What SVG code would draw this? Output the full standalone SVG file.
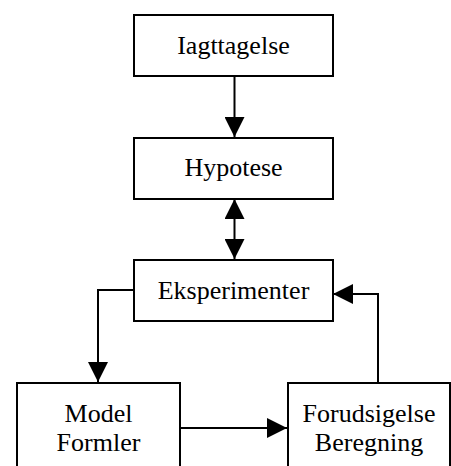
<svg xmlns="http://www.w3.org/2000/svg" width="451" height="466" viewBox="0 0 451 466">
<style>
.box{fill:#fff;stroke:#000;stroke-width:2}
.t{font-family:"Liberation Serif","Times New Roman",serif;font-size:26px;fill:#000;text-anchor:middle}
.c{fill:none;stroke:#000;stroke-width:2}
</style>
<defs>
<marker id="ah" markerUnits="userSpaceOnUse" markerWidth="20" markerHeight="20" refX="20" refY="10" orient="auto-start-reverse" viewBox="0 0 20 20">
<path d="M0,0 L20,10 L0,20 Z" fill="#000"/>
</marker>
</defs>
<rect width="451" height="466" fill="#fff"/>
<g id="connectors">
<line class="c" x1="234.5" y1="76" x2="234.5" y2="137" marker-end="url(#ah)"/>
<line class="c" x1="234.5" y1="199" x2="234.5" y2="259" marker-start="url(#ah)" marker-end="url(#ah)"/>
<polyline class="c" points="133,290 98,290 98,382" marker-end="url(#ah)"/>
<line class="c" x1="180" y1="428" x2="287" y2="428" marker-end="url(#ah)"/>
<polyline class="c" points="378,382 378,294 333,294" marker-end="url(#ah)"/>
</g>
<g id="n1"><rect class="box" x="134" y="15" width="199" height="61"/><text class="t" x="233.5" y="54">Iagttagelse</text></g>
<g id="n2"><rect class="box" x="134" y="138" width="199" height="61"/><text class="t" x="233.5" y="176">Hypotese</text></g>
<g id="n3"><rect class="box" x="134" y="260" width="199" height="61"/><text class="t" x="233.5" y="299">Eksperimenter</text></g>
<g id="n4"><rect class="box" x="17" y="383" width="163" height="100"/><text class="t" x="98.5" y="422">Model</text><text class="t" x="98.5" y="451">Formler</text></g>
<g id="n5"><rect class="box" x="288" y="383" width="162" height="100"/><text class="t" x="369" y="422">Forudsigelse</text><text class="t" x="369" y="451">Beregning</text></g>
</svg>
